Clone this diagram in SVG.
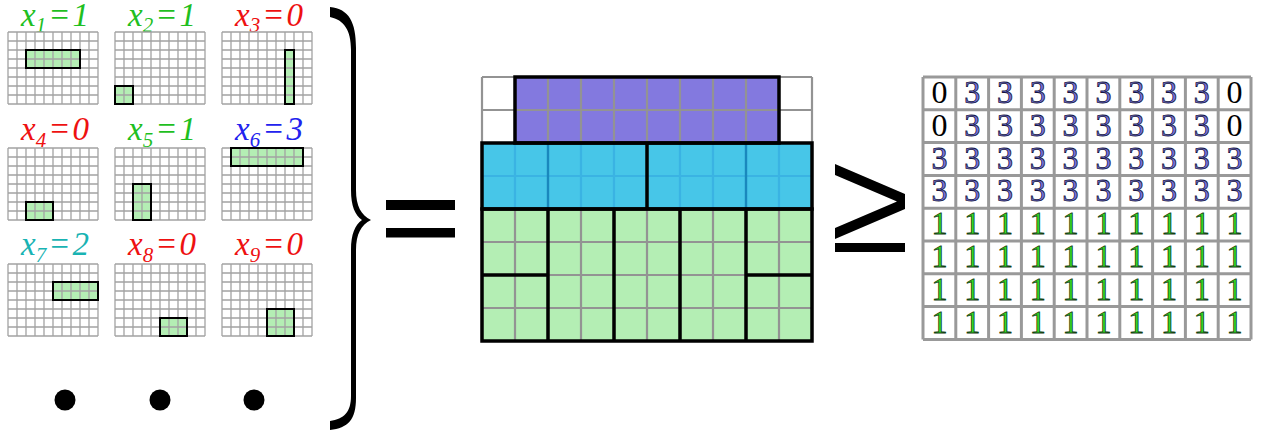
<svg xmlns="http://www.w3.org/2000/svg" xmlns:xlink="http://www.w3.org/1999/xlink" width="1266" height="435" viewBox="0 0 1266 435">
<style>
.sgl{fill:none;stroke:#a3a3a3;stroke-width:1.3}
.gf{fill:#b4eeb4}
.go{fill:none;stroke:#000;stroke-width:2}
.lbl{font-family:"Liberation Serif","Times New Roman",serif;font-style:italic;font-size:33px;text-anchor:middle}
.gray{fill:none;stroke:#939393;stroke-width:2.2}
.cl{fill:none;stroke:#3ab3e3;stroke-width:2.2}
.cd{fill:none;stroke:#1a88bd;stroke-width:2.4}
.blk{fill:none;stroke:#000;stroke-width:3.5}
.dg{font-family:"Liberation Serif","Times New Roman",serif;font-size:32px;text-anchor:middle;stroke-width:0.8}
.d0{fill:#000}
.d3{fill:#7474e0;stroke:#151540}
.d1{fill:#33dd22;stroke:#133d13}
</style>
<defs>
<path id="sg" class="sgl" d="M0 0V72M9 0V72M18 0V72M27 0V72M36 0V72M45 0V72M54 0V72M63 0V72M72 0V72M81 0V72M90 0V72M0 0H90M0 9H90M0 18H90M0 27H90M0 36H90M0 45H90M0 54H90M0 63H90M0 72H90"/>
</defs>
<rect width="1266" height="435" fill="#fff"/>

<g id="x1">
<text class="lbl" x="55" y="26" fill="#1fbf1f">x<tspan font-size="21" dy="6">1</tspan><tspan dy="-6" dx="2">=</tspan><tspan dx="2">1</tspan></text>
<g transform="translate(8,32)"><rect class="gf" x="18" y="18" width="54" height="18"/><use xlink:href="#sg"/><rect class="go" x="18" y="18" width="54" height="18"/></g>
</g>
<g id="x2">
<text class="lbl" x="162" y="26" fill="#1fbf1f">x<tspan font-size="21" dy="6">2</tspan><tspan dy="-6" dx="2">=</tspan><tspan dx="2">1</tspan></text>
<g transform="translate(115,32)"><rect class="gf" x="0" y="54" width="18" height="18"/><use xlink:href="#sg"/><rect class="go" x="0" y="54" width="18" height="18"/></g>
</g>
<g id="x3">
<text class="lbl" x="269" y="26" fill="#ee1111">x<tspan font-size="21" dy="6">3</tspan><tspan dy="-6" dx="2">=</tspan><tspan dx="2">0</tspan></text>
<g transform="translate(222,32)"><rect class="gf" x="63" y="18" width="9" height="54"/><use xlink:href="#sg"/><rect class="go" x="63" y="18" width="9" height="54"/></g>
</g>
<g id="x4">
<text class="lbl" x="55" y="140" fill="#ee1111">x<tspan font-size="21" dy="7">4</tspan><tspan dy="-7" dx="2">=</tspan><tspan dx="2">0</tspan></text>
<g transform="translate(8,148)"><rect class="gf" x="18" y="54" width="27" height="18"/><use xlink:href="#sg"/><rect class="go" x="18" y="54" width="27" height="18"/></g>
</g>
<g id="x5">
<text class="lbl" x="162" y="140" fill="#1fbf1f">x<tspan font-size="21" dy="7">5</tspan><tspan dy="-7" dx="2">=</tspan><tspan dx="2">1</tspan></text>
<g transform="translate(115,148)"><rect class="gf" x="18" y="36" width="18" height="36"/><use xlink:href="#sg"/><rect class="go" x="18" y="36" width="18" height="36"/></g>
</g>
<g id="x6">
<text class="lbl" x="269" y="140" fill="#2222ee">x<tspan font-size="21" dy="7">6</tspan><tspan dy="-7" dx="2">=</tspan><tspan dx="2">3</tspan></text>
<g transform="translate(222,148)"><rect class="gf" x="9" y="0" width="72" height="18"/><use xlink:href="#sg"/><rect class="go" x="9" y="0" width="72" height="18"/></g>
</g>
<g id="x7">
<text class="lbl" x="55" y="255" fill="#19b3b3">x<tspan font-size="21" dy="7">7</tspan><tspan dy="-7" dx="2">=</tspan><tspan dx="2">2</tspan></text>
<g transform="translate(8,264)"><rect class="gf" x="45" y="18" width="45" height="18"/><use xlink:href="#sg"/><rect class="go" x="45" y="18" width="45" height="18"/></g>
</g>
<g id="x8">
<text class="lbl" x="162" y="255" fill="#ee1111">x<tspan font-size="21" dy="7">8</tspan><tspan dy="-7" dx="2">=</tspan><tspan dx="2">0</tspan></text>
<g transform="translate(115,264)"><rect class="gf" x="45" y="54" width="27" height="18"/><use xlink:href="#sg"/><rect class="go" x="45" y="54" width="27" height="18"/></g>
</g>
<g id="x9">
<text class="lbl" x="269" y="255" fill="#ee1111">x<tspan font-size="21" dy="7">9</tspan><tspan dy="-7" dx="2">=</tspan><tspan dx="2">0</tspan></text>
<g transform="translate(222,264)"><rect class="gf" x="45" y="45" width="27" height="27"/><use xlink:href="#sg"/><rect class="go" x="45" y="45" width="27" height="27"/></g>
</g>

<g id="dots">
<circle cx="65" cy="400" r="10.5"/>
<circle cx="160" cy="400" r="10.5"/>
<circle cx="254" cy="400" r="10.5"/>
</g>

<g id="brace">
<path fill="#000" d="M330 7C349 9 356 22 356 48L356 190C356 206 361 215 371 220C361 225 356 234 356 250L356 398C356 420 348 428 330 430L330 421C344 419 351 412 351 396L351 250C351 234 355 225 362 220C355 215 351 206 351 190L351 50C351 30 344 20 330 17Z"/>
</g>

<g id="equals">
<rect x="386" y="200" width="69" height="10"/>
<rect x="386" y="228" width="69" height="9.5"/>
</g>

<g id="tiling">
<rect x="515" y="77" width="264" height="66" fill="#8379df"/>
<rect x="482" y="143" width="330" height="66" fill="#47c6e8"/>
<rect x="482" y="209" width="330" height="132" fill="#b4eeb4"/>
<path class="gray" d="M482 77V143M515 77V143M548 77V143M581 77V143M614 77V143M647 77V143M680 77V143M713 77V143M746 77V143M779 77V143M812 77V143M482 77H812M482 110H812M482 143H812M482 209V341M515 209V341M548 209V341M581 209V341M614 209V341M647 209V341M680 209V341M713 209V341M746 209V341M779 209V341M812 209V341M482 242H812M482 275H812M482 308H812M482 341H812"/>
<path class="cl" d="M515 143V209M581 143V209M614 143V209M680 143V209M713 143V209M779 143V209M482 176H812"/>
<path class="cd" d="M548 143V209M746 143V209"/>
<rect class="blk" x="515" y="77" width="264" height="66"/>
<rect class="blk" x="482" y="143" width="330" height="66"/>
<path class="blk" d="M647 143V209"/>
<rect class="blk" x="482" y="209" width="330" height="132"/>
<path class="blk" d="M548 209V341M614 209V341M680 209V341M746 209V341M482 275H548M746 275H812"/>
</g>

<g id="geq">
<polygon points="835,164 905,194 905,209 835,239 835,228 897,201.5 835,175"/>
<rect x="835" y="243" width="70" height="9"/>
</g>

<g id="result">
<rect x="923" y="77" width="328" height="262.4" fill="#fff"/>
<path fill="none" stroke="#999" stroke-width="3" d="M923 77V339.4M955.8 77V339.4M988.6 77V339.4M1021.4 77V339.4M1054.2 77V339.4M1087 77V339.4M1119.8 77V339.4M1152.6 77V339.4M1185.4 77V339.4M1218.2 77V339.4M1251 77V339.4M923 77H1251M923 109.8H1251M923 142.6H1251M923 175.4H1251M923 208.2H1251M923 241H1251M923 273.8H1251M923 306.6H1251M923 339.4H1251"/>
<g class="dg">
<text class="d0" x="939.4" y="103">0</text><text class="d3" x="972.2" y="103">3</text><text class="d3" x="1005" y="103">3</text><text class="d3" x="1037.8" y="103">3</text><text class="d3" x="1070.6" y="103">3</text><text class="d3" x="1103.4" y="103">3</text><text class="d3" x="1136.2" y="103">3</text><text class="d3" x="1169" y="103">3</text><text class="d3" x="1201.8" y="103">3</text><text class="d0" x="1234.6" y="103">0</text>
<text class="d0" x="939.4" y="135.8">0</text><text class="d3" x="972.2" y="135.8">3</text><text class="d3" x="1005" y="135.8">3</text><text class="d3" x="1037.8" y="135.8">3</text><text class="d3" x="1070.6" y="135.8">3</text><text class="d3" x="1103.4" y="135.8">3</text><text class="d3" x="1136.2" y="135.8">3</text><text class="d3" x="1169" y="135.8">3</text><text class="d3" x="1201.8" y="135.8">3</text><text class="d0" x="1234.6" y="135.8">0</text>
<text class="d3" x="939.4" y="168.6">3</text><text class="d3" x="972.2" y="168.6">3</text><text class="d3" x="1005" y="168.6">3</text><text class="d3" x="1037.8" y="168.6">3</text><text class="d3" x="1070.6" y="168.6">3</text><text class="d3" x="1103.4" y="168.6">3</text><text class="d3" x="1136.2" y="168.6">3</text><text class="d3" x="1169" y="168.6">3</text><text class="d3" x="1201.8" y="168.6">3</text><text class="d3" x="1234.6" y="168.6">3</text>
<text class="d3" x="939.4" y="201.4">3</text><text class="d3" x="972.2" y="201.4">3</text><text class="d3" x="1005" y="201.4">3</text><text class="d3" x="1037.8" y="201.4">3</text><text class="d3" x="1070.6" y="201.4">3</text><text class="d3" x="1103.4" y="201.4">3</text><text class="d3" x="1136.2" y="201.4">3</text><text class="d3" x="1169" y="201.4">3</text><text class="d3" x="1201.8" y="201.4">3</text><text class="d3" x="1234.6" y="201.4">3</text>
<text class="d1" x="939.4" y="234.2">1</text><text class="d1" x="972.2" y="234.2">1</text><text class="d1" x="1005" y="234.2">1</text><text class="d1" x="1037.8" y="234.2">1</text><text class="d1" x="1070.6" y="234.2">1</text><text class="d1" x="1103.4" y="234.2">1</text><text class="d1" x="1136.2" y="234.2">1</text><text class="d1" x="1169" y="234.2">1</text><text class="d1" x="1201.8" y="234.2">1</text><text class="d1" x="1234.6" y="234.2">1</text>
<text class="d1" x="939.4" y="267">1</text><text class="d1" x="972.2" y="267">1</text><text class="d1" x="1005" y="267">1</text><text class="d1" x="1037.8" y="267">1</text><text class="d1" x="1070.6" y="267">1</text><text class="d1" x="1103.4" y="267">1</text><text class="d1" x="1136.2" y="267">1</text><text class="d1" x="1169" y="267">1</text><text class="d1" x="1201.8" y="267">1</text><text class="d1" x="1234.6" y="267">1</text>
<text class="d1" x="939.4" y="299.8">1</text><text class="d1" x="972.2" y="299.8">1</text><text class="d1" x="1005" y="299.8">1</text><text class="d1" x="1037.8" y="299.8">1</text><text class="d1" x="1070.6" y="299.8">1</text><text class="d1" x="1103.4" y="299.8">1</text><text class="d1" x="1136.2" y="299.8">1</text><text class="d1" x="1169" y="299.8">1</text><text class="d1" x="1201.8" y="299.8">1</text><text class="d1" x="1234.6" y="299.8">1</text>
<text class="d1" x="939.4" y="332.6">1</text><text class="d1" x="972.2" y="332.6">1</text><text class="d1" x="1005" y="332.6">1</text><text class="d1" x="1037.8" y="332.6">1</text><text class="d1" x="1070.6" y="332.6">1</text><text class="d1" x="1103.4" y="332.6">1</text><text class="d1" x="1136.2" y="332.6">1</text><text class="d1" x="1169" y="332.6">1</text><text class="d1" x="1201.8" y="332.6">1</text><text class="d1" x="1234.6" y="332.6">1</text>
</g>
</g>
<g id="connectors"/>
</svg>
